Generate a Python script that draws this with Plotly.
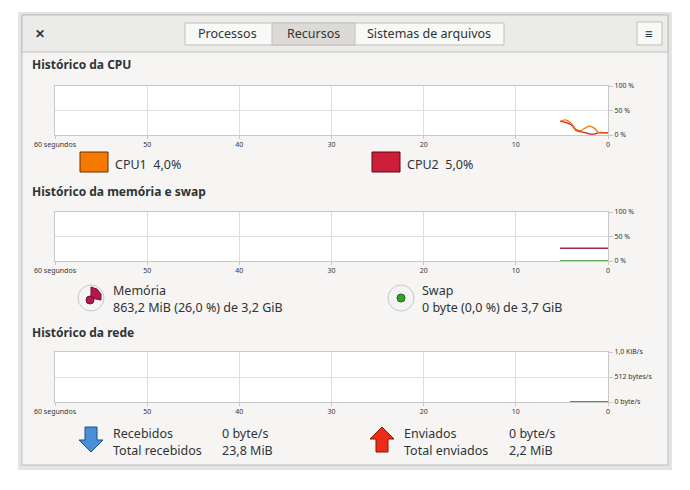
import plotly.graph_objects as go

W, H = 690, 490
OX, OY = 8, 8
def px(x): return (x - OX) / W
def py(y): return 1 - (y - OY) / H

x_ticks = [60, 50, 40, 30, 20, 10, 0]
x_labels = ["60 segundos", "50", "40", "30", "20", "10", "0"]
pct_ticks = [0, 50, 100]
pct_labels = ["0 %", "50 %", "100 %"]
net_ticks = [0, 512, 1024]
net_labels = ["0 byte/s", "512 bytes/s", "1,0 KiB/s"]

cpu_t = [5.2, 4.6, 4.0, 3.5, 3.0, 2.5, 2.0, 1.5, 1.0, 0.5, 0.0]
cpu1 = [28, 31, 24, 12, 9, 14, 18, 14, 5, 4, 4]
cpu2 = [28, 26, 21, 10, 7, 5, 2, 2, 5, 5, 5]
mem_t = [5.2, 0.0]
mem = [26, 26]
swap = [0, 0]
net_t = [4.1, 0.0]
recv = [0, 0]
sent = [0, 0]

FONT = "Noto Sans"
fig = go.Figure()
fig.add_trace(go.Scatter(x=cpu_t, y=cpu2, mode="lines", line=dict(color="#cc1f3a", width=1.3, shape="spline"), xaxis="x", yaxis="y"))
fig.add_trace(go.Scatter(x=cpu_t, y=cpu1, mode="lines", line=dict(color="#f57900", width=1.3, shape="spline"), xaxis="x", yaxis="y"))
fig.add_trace(go.Scatter(x=mem_t, y=mem, mode="lines", line=dict(color="#a3264e", width=1.3), xaxis="x2", yaxis="y2"))
fig.add_trace(go.Scatter(x=mem_t, y=swap, mode="lines", line=dict(color="#2e9b2e", width=1.3), xaxis="x2", yaxis="y2"))
fig.add_trace(go.Scatter(x=net_t, y=sent, mode="lines", line=dict(color="#c01c28", width=1.3), xaxis="x3", yaxis="y3"))
fig.add_trace(go.Scatter(x=net_t, y=recv, mode="lines", line=dict(color="#3584e4", width=1.5), xaxis="x3", yaxis="y3"))

xd = [px(55), px(608)]
ydoms = {"y": [py(135), py(86)], "y2": [py(261), py(212)], "y3": [py(402), py(352)]}

def xax(anchor):
    return dict(domain=xd, range=[60, 0], tickvals=x_ticks, ticktext=x_labels, anchor=anchor,
                showgrid=True, gridcolor="#dedede", gridwidth=1, zeroline=False, automargin=False,
                showline=True, linecolor="#c8c8c8", mirror=True, ticks="outside", ticklen=3,
                tickcolor="#c8c8c8", tickfont=dict(size=7, color="#333", family=FONT), fixedrange=True)

def yax(anchor, dom, rng, tv, tt):
    return dict(domain=dom, range=rng, tickvals=tv, ticktext=tt, anchor=anchor, side="right",
                showgrid=True, gridcolor="#dedede", zeroline=False, showline=True, linecolor="#c8c8c8",
                mirror=True, ticks="outside", ticklen=4, tickcolor="#c8c8c8", automargin=False,
                tickfont=dict(size=7, color="#333", family=FONT), fixedrange=True)

shapes = []
ann = []
def rect(x0, y0, x1, y1, fill, line="rgba(0,0,0,0)", lw=1, layer="below"):
    shapes.append(dict(type="rect", xref="paper", yref="paper", x0=px(x0), x1=px(x1), y0=py(y1), y1=py(y0),
                       fillcolor=fill, line=dict(color=line, width=lw), layer=layer))
def text(x, y, s, size=12, color="#2e3436", bold=False, xanchor="left"):
    if bold: s = "<b>" + s + "</b>"
    ann.append(dict(x=px(x), y=py(y), xref="paper", yref="paper", text=s, showarrow=False,
                    xanchor=xanchor, yanchor="middle", font=dict(size=size, color=color, family=FONT)))

rect(18, 12, 672, 470, "#e4e4e4")
rect(22, 15, 668, 465, "#f6f5f4", "#bdbdbd")
rect(22, 15, 668, 52, "#ebebea", "#c0bfbc")
rect(185, 23, 504, 45, "#f8f8f7", "#c0bfbc")
rect(272, 23, 355, 45, "#dcdad7", "#c0bfbc")
rect(637, 22, 662, 45, "#f8f8f7", "#c0bfbc")
text(40, 34, "✕", 12, "#2e3436", True, "center")
text(228, 34, "Processos", 12.5, xanchor="center")
text(313, 34, "Recursos", 12.5, xanchor="center")
text(429, 34, "Sistemas de arquivos", 12.5, xanchor="center")
text(649, 34, "≡", 14, "#2e3436", True, "center")
for y0, y1 in [(86, 135), (212, 261), (352, 402)]:
    rect(55, y0, 608, y1, "#ffffff")

text(30, 65, "Histórico da CPU", 12, bold=True)
text(30, 191, "Histórico da memória e swap", 12, bold=True)
text(30, 332, "Histórico da rede", 12, bold=True)

rect(80, 152, 108, 172, "#f57900", "#6b3000")
text(113, 164, "CPU1  4,0%", 12.5)
rect(372, 152, 400, 172, "#cc1f3a", "#5a0a15")
text(405, 164, "CPU2  5,0%", 12.5)

shapes.append(dict(type="circle", xref="paper", yref="paper", x0=px(78), x1=px(104), y0=py(311), y1=py(285),
                   fillcolor="#f4f4f4", line=dict(color="#c8c8c8", width=1)))
cx, cy = 91, 298
shapes.append(dict(type="path", xref="paper", yref="paper",
                   path=f"M {px(cx)} {py(cy)} L {px(cx)} {py(287)} L {px(97)} {py(289)} L {px(101)} {py(294)} L {px(101)} {py(300)} Z",
                   fillcolor="#b5174b", line=dict(color="#7a0f33", width=1)))
shapes.append(dict(type="circle", xref="paper", yref="paper", x0=px(86), x1=px(94), y0=py(304), y1=py(296),
                   fillcolor="#b5174b", line=dict(color="#7a0f33", width=1)))
text(111, 290, "Memória", 12.5)
text(111, 307, "863,2 MiB (26,0 %) de 3,2 GiB", 12.5)
shapes.append(dict(type="circle", xref="paper", yref="paper", x0=px(388), x1=px(414), y0=py(311), y1=py(285),
                   fillcolor="#f4f4f4", line=dict(color="#c8c8c8", width=1)))
shapes.append(dict(type="circle", xref="paper", yref="paper", x0=px(397), x1=px(405), y0=py(302), y1=py(294),
                   fillcolor="#33a02c", line=dict(color="#1f6b1a", width=1)))
text(420, 290, "Swap", 12.5)
text(420, 307, "0 byte (0,0 %) de 3,7 GiB", 12.5)

def arrow(cx, top, bot, up, fill, line):
    if up:
        p = [(cx, top), (cx + 12, top + 12), (cx + 6, top + 12), (cx + 6, bot), (cx - 6, bot), (cx - 6, top + 12), (cx - 12, top + 12)]
    else:
        p = [(cx, bot), (cx + 12, bot - 12), (cx + 6, bot - 12), (cx + 6, top), (cx - 6, top), (cx - 6, bot - 12), (cx - 12, bot - 12)]
    path = "M " + " L ".join(f"{px(a)} {py(b)}" for a, b in p) + " Z"
    shapes.append(dict(type="path", xref="paper", yref="paper", path=path, fillcolor=fill, line=dict(color=line, width=1)))
arrow(91, 427, 452, False, "#4a90d9", "#1c4f86")
arrow(382, 427, 452, True, "#ef2d16", "#8a1505")
text(111, 433, "Recebidos", 12.5)
text(111, 450, "Total recebidos", 12.5)
text(220, 433, "0 byte/s", 12.5)
text(220, 450, "23,8 MiB", 12.5)
text(402, 433, "Enviados", 12.5)
text(402, 450, "Total enviados", 12.5)
text(507, 433, "0 byte/s", 12.5)
text(507, 450, "2,2 MiB", 12.5)

fig.update_layout(
    width=W, height=H, margin=dict(l=0, r=0, t=0, b=0, autoexpand=False), showlegend=False,
    paper_bgcolor="#ffffff", plot_bgcolor="rgba(0,0,0,0)",
    xaxis=xax("y"), xaxis2=xax("y2"), xaxis3=xax("y3"),
    yaxis=yax("x", ydoms["y"], [0, 100], pct_ticks, pct_labels),
    yaxis2=yax("x2", ydoms["y2"], [0, 100], pct_ticks, pct_labels),
    yaxis3=yax("x3", ydoms["y3"], [0, 1024], net_ticks, net_labels),
    shapes=shapes, annotations=ann,
)
fig.write_html("out.html", config={"displayModeBar": False})
